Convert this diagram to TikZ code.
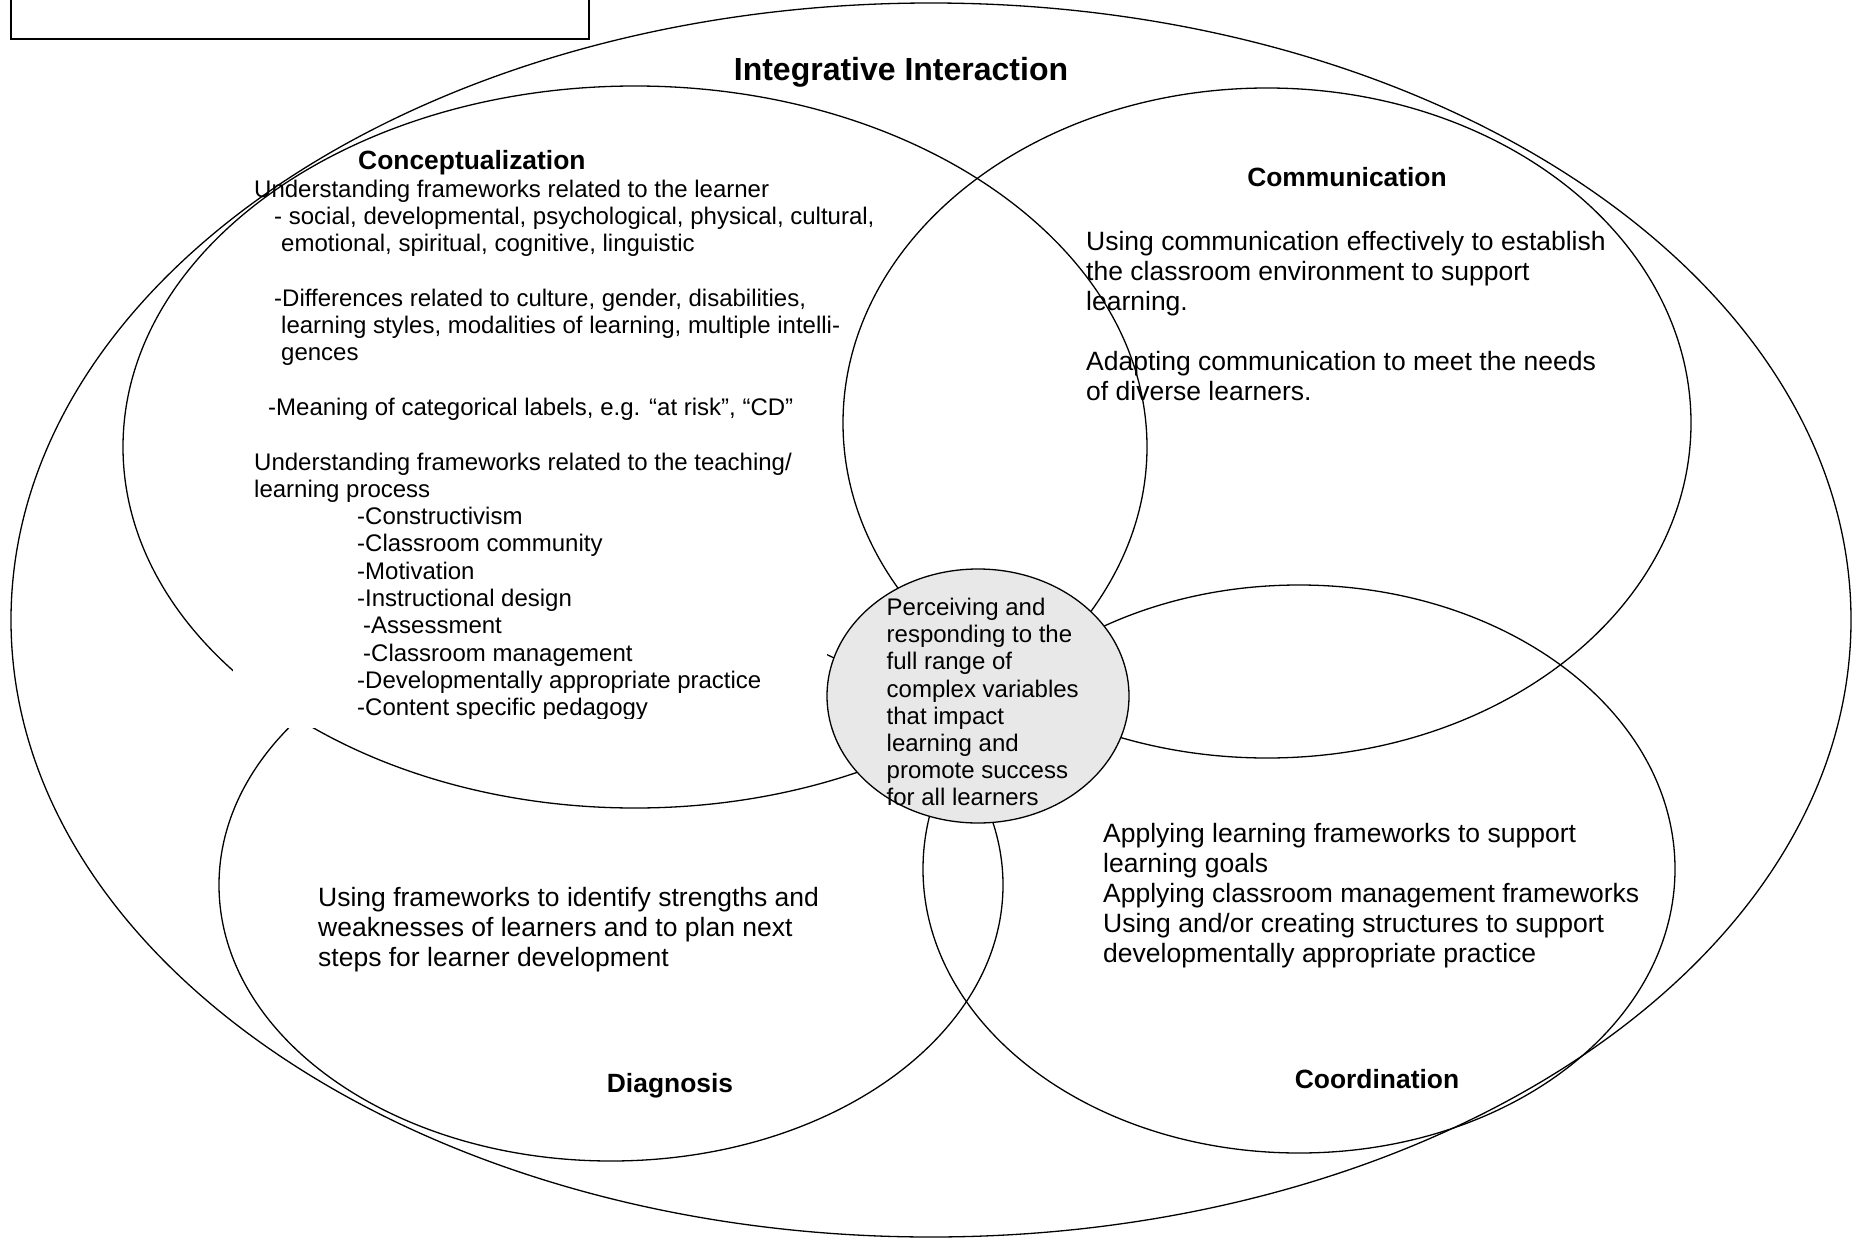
\documentclass[tikz,border=0pt]{standalone}
\usepackage{fontspec}
\setmainfont{Liberation Sans}
\definecolor{corefill}{HTML}{E8E8E8}
\begin{document}
\begin{tikzpicture}[x=1pt,y=-1pt,
  ring/.style={line width=1.3pt},
  small/.style={anchor=base west, inner sep=0pt, font=\fontsize{24}{27.3}\selectfont},
  large/.style={anchor=base west, inner sep=0pt, font=\fontsize{26.5}{30.2}\selectfont},
  head/.style={anchor=base, inner sep=0pt, font=\fontsize{26.4}{30}\selectfont\bfseries}]
\useasboundingbox (0,0) rectangle (1853,1239);

% empty frame in the top left corner
\draw[line width=1.8pt] (11,-10) rectangle (589,39);

% the enclosing ellipse and the four domains
\draw[ring] (931,620) ellipse [x radius=920pt, y radius=617pt];
\draw[ring] (635,447) ellipse [x radius=512pt, y radius=361pt];
\draw[ring] (1267,423) ellipse [x radius=424pt, y radius=335pt];
\draw[ring] (611,885) ellipse [x radius=392pt, y radius=276pt];
\draw[ring] (1299,869) ellipse [x radius=376pt, y radius=284pt];

% opaque text frame of the conceptualization list
\fill[white] (233,590) rectangle (827,728);

\node[head, font=\fontsize{32}{36}\selectfont\bfseries] (title) at (901,81) {Integrative Interaction};

% Conceptualization
\node[head, anchor=base west] (concH) at (358,169) {Conceptualization};
\node[small] (c1)  at (254,197.0) {Understanding frameworks related to the learner};
\node[small] (c2)  at (274,224.3) {- social, developmental, psychological, physical, cultural,};
\node[small] (c3)  at (281,251.6) {emotional, spiritual, cognitive, linguistic};
\node[small] (c5)  at (274,306.2) {-Differences related to culture, gender, disabilities,};
\node[small] (c6)  at (281,333.5) {learning styles, modalities of learning, multiple intelli-};
\node[small] (c7)  at (281,360.8) {gences};
\node[small] (c9)  at (268,415.4) {-Meaning of categorical labels, e.g. “at risk”, “CD”};
\node[small] (c11) at (254,470.0) {Understanding frameworks related to the teaching/};
\node[small] (c12) at (254,497.3) {learning process};
\node[small] (c13) at (357,524.6) {-Constructivism};
\node[small] (c14) at (357,551.9) {-Classroom community};
\node[small] (c15) at (357,579.2) {-Motivation};
\node[small] (c16) at (357,606.5) {-Instructional design};
\node[small] (c17) at (363,633.8) {-Assessment};
\node[small] (c18) at (363,661.1) {-Classroom management};
\node[small] (c19) at (357,688.4) {-Developmentally appropriate practice};
\node[small] (c20) at (357,715.7) {-Content specific pedagogy};
% lower edge of the text frame trims the last line
\fill[white] (340,718.5) rectangle (700,729);

% Communication
\node[head] (commH) at (1347,186) {Communication};
\node[large] (m1) at (1086,250) {Using communication effectively to establish};
\node[large] (m2) at (1086,280) {the classroom environment to support};
\node[large] (m3) at (1086,310) {learning.};
\node[large] (m5) at (1086,370) {Adapting communication to meet the needs};
\node[large] (m6) at (1086,400) {of diverse learners.};

% Diagnosis
\node[large] (d1) at (318,906) {Using frameworks to identify strengths and};
\node[large] (d2) at (318,936) {weaknesses of learners and to plan next};
\node[large] (d3) at (318,966) {steps for learner development};
\node[head] (diagH) at (670,1092) {Diagnosis};

% Coordination
\node[large] (k1) at (1103,842) {Applying learning frameworks to support};
\node[large] (k2) at (1103,872) {learning goals};
\node[large] (k3) at (1103,902) {Applying classroom management frameworks};
\node[large] (k4) at (1103,932) {Using and/or creating structures to support};
\node[large] (k5) at (1103,962) {developmentally appropriate practice};
\node[head] (coordH) at (1377,1088) {Coordination};

% central core
\draw[ring, fill=corefill] (978,696) ellipse [x radius=151pt, y radius=127pt];
\node[small] (p1) at (886.5,615.5) {Perceiving and};
\node[small] (p2) at (886.5,642.7) {responding to the};
\node[small] (p3) at (886.5,669.9) {full range of};
\node[small] (p4) at (886.5,697.1) {complex variables};
\node[small] (p5) at (886.5,724.3) {that impact};
\node[small] (p6) at (886.5,751.5) {learning and};
\node[small] (p7) at (886.5,778.7) {promote success};
\node[small] (p8) at (886.5,805.9) {for all learners};
\end{tikzpicture}
\end{document}
